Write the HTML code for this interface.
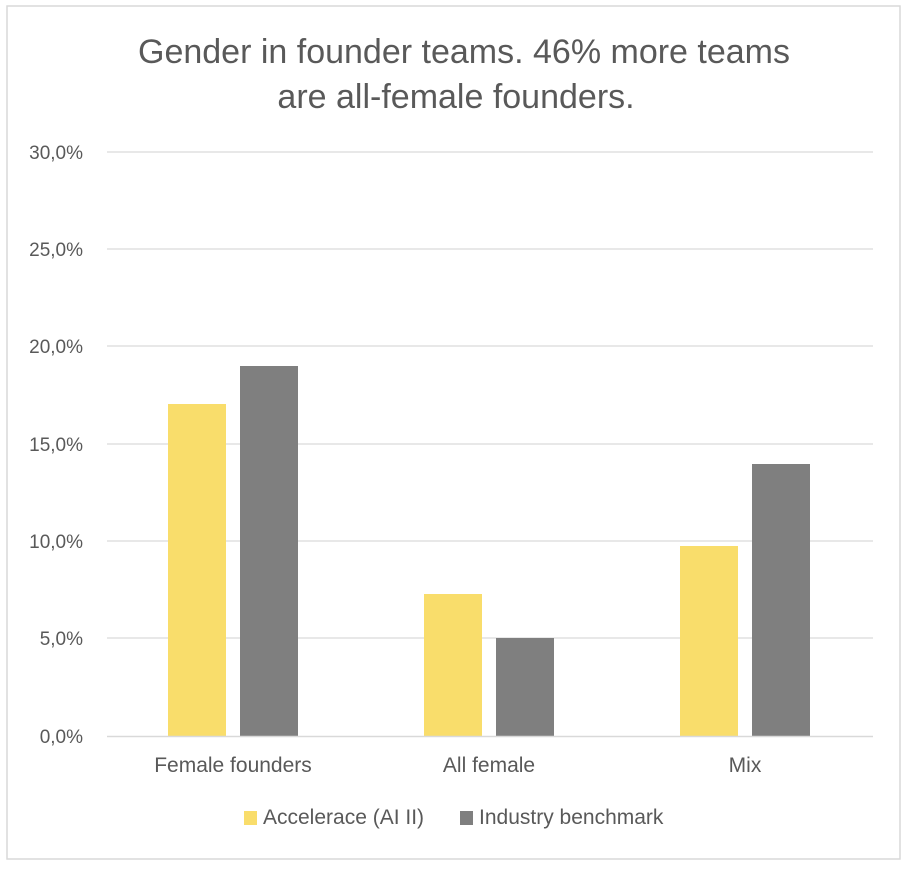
<!DOCTYPE html>
<html><head><style>
body{margin:0;background:#fff;}
svg text{font-family:"Liberation Sans",sans-serif;fill:#595959;}
</style></head><body>
<svg width="906" height="866" xmlns="http://www.w3.org/2000/svg">
<rect x="0" y="0" width="906" height="866" fill="#fff"/>
<rect x="7" y="6" width="893" height="853" fill="none" stroke="#d9d9d9" stroke-width="1.5"/>
<text x="464" y="63" font-size="34" text-anchor="middle">Gender in founder teams. 46% more teams</text>
<text x="456" y="108" font-size="34" text-anchor="middle">are all-female founders.</text>
<g stroke="#d9d9d9" stroke-width="1.3">
<line x1="107" x2="873" y1="152" y2="152"/>
<line x1="107" x2="873" y1="249" y2="249"/>
<line x1="107" x2="873" y1="346" y2="346"/>
<line x1="107" x2="873" y1="444" y2="444"/>
<line x1="107" x2="873" y1="541" y2="541"/>
<line x1="107" x2="873" y1="638" y2="638"/>
</g>
<g font-size="19" text-anchor="end">
<text x="83" y="159">30,0%</text>
<text x="83" y="256">25,0%</text>
<text x="83" y="353">20,0%</text>
<text x="83" y="451">15,0%</text>
<text x="83" y="548">10,0%</text>
<text x="83" y="645">5,0%</text>
<text x="83" y="743">0,0%</text>
</g>
<g fill="#f9dd6b">
<rect x="168" y="404" width="58" height="332"/>
<rect x="424" y="594" width="58" height="142"/>
<rect x="680" y="546" width="58" height="190"/>
</g>
<g fill="#7f7f7f">
<rect x="240" y="366" width="58" height="370"/>
<rect x="496" y="638" width="58" height="98"/>
<rect x="752" y="464" width="58" height="272"/>
</g>
<line x1="107" x2="873" y1="736.5" y2="736.5" stroke="#d9d9d9" stroke-width="1.5"/>
<g font-size="21" text-anchor="middle">
<text x="233" y="772">Female founders</text>
<text x="489" y="772">All female</text>
<text x="745" y="772">Mix</text>
</g>
<rect x="244" y="811" width="13" height="14" fill="#f9dd6b"/>
<text x="263" y="824" font-size="21">Accelerace (AI II)</text>
<rect x="460" y="811" width="13" height="14" fill="#7f7f7f"/>
<text x="479" y="824" font-size="21">Industry benchmark</text>
</svg>
</body></html>
